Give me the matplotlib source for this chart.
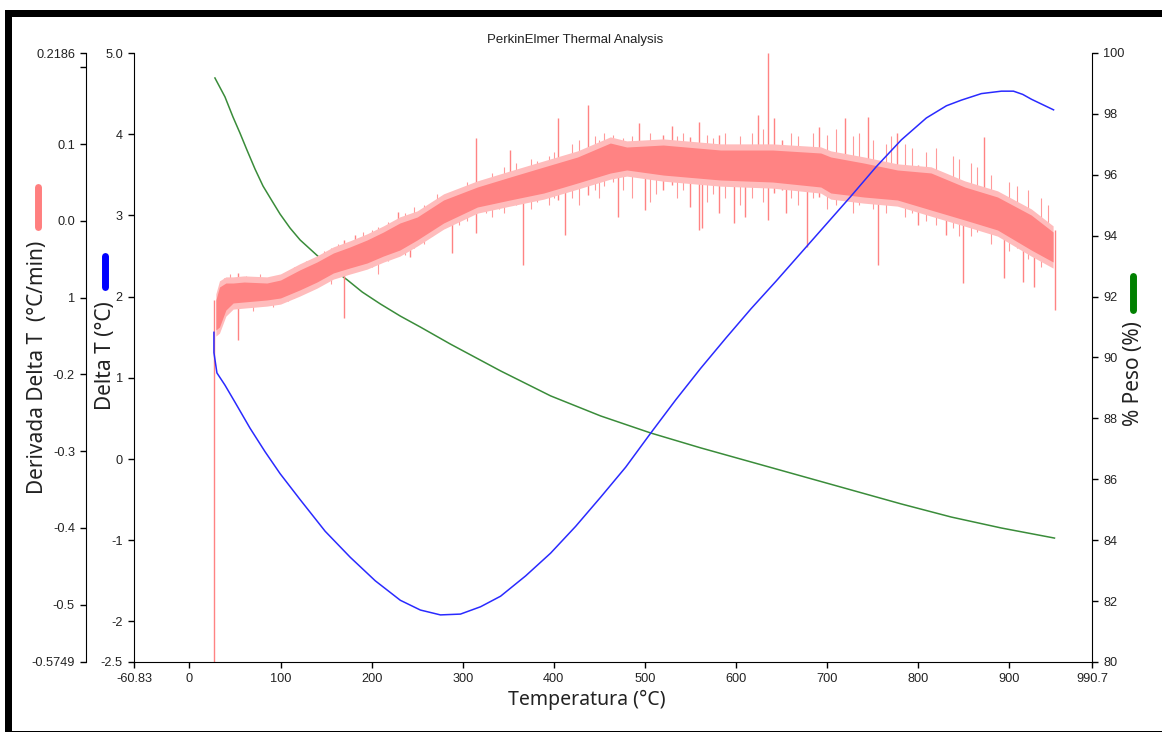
import matplotlib
matplotlib.use("Agg")
import matplotlib.pyplot as plt
from matplotlib.lines import Line2D
from matplotlib.patches import Rectangle
from matplotlib.ticker import FixedLocator, FixedFormatter

# ---------------- data ----------------
# x axis
x_ticks = [-60.83, 0, 100, 200, 300, 400, 500, 600, 700, 800, 900, 990.7]
x_labels = ["-60.83", "0", "100", "200", "300", "400", "500", "600", "700", "800", "900", "990.7"]

# Delta T (blue, inner left axis)
dt_ticks = [5.0, 4, 3, 2, 1, 0, -1, -2, -2.5]
dt_labels = ["5.0", "4", "3", "2", "1", "0", "-1", "-2", "-2.5"]
dt_T = [26.9, 26.9, 30.2, 39.0, 50.0, 66.5, 83.0, 99.5, 121.5, 149.0, 176.5, 204.0, 231.5,
        253.5, 275.5, 297.5, 319.5, 341.5, 369.0, 396.4, 423.9, 451.4, 478.9, 506.4, 533.9,
        561.4, 588.9, 616.4, 643.9, 671.4, 698.9, 726.4, 753.9, 781.4, 808.9, 830.9, 847.4,
        869.3, 891.3, 904.5, 914.7, 924.3, 948.5]
dt_val = [1.56, 1.31, 1.06, 0.91, 0.70, 0.38, 0.09, -0.18, -0.50, -0.89, -1.21, -1.50, -1.74,
          -1.86, -1.92, -1.91, -1.82, -1.69, -1.44, -1.16, -0.83, -0.47, -0.10, 0.32, 0.73,
          1.12, 1.49, 1.85, 2.19, 2.54, 2.89, 3.24, 3.60, 3.93, 4.20, 4.35, 4.42,
          4.50, 4.53, 4.53, 4.49, 4.43, 4.30]

# % Peso (green, right axis)
peso_ticks = [100, 98, 96, 94, 92, 90, 88, 86, 84, 82, 80]
peso_T = [28.0, 39.0, 47.8, 55.5, 63.2, 72.0, 80.8, 90.7, 99.5, 110.5, 121.5, 134.7, 146.8,
          160.0, 173.2, 189.7, 209.5, 231.5, 253.5, 286.5, 341.5, 396.4, 451.4, 506.4,
          561.4, 616.4, 671.4, 726.4, 781.4, 836.3, 891.3, 949.5]
peso_val = [99.18, 98.56, 97.90, 97.37, 96.81, 96.19, 95.63, 95.14, 94.71, 94.25, 93.86,
            93.50, 93.17, 92.84, 92.55, 92.15, 91.76, 91.36, 91.00, 90.44, 89.56, 88.74,
            88.08, 87.52, 87.03, 86.57, 86.11, 85.65, 85.19, 84.76, 84.40, 84.07]

# Derivada Delta T (red, outer left axis): noisy band (upper / lower edge) + spikes
der_ticks = [0.2186, 0.2, 0.1, 0.0, -0.1, -0.2, -0.3, -0.4, -0.5, -0.5749]
der_labels = ["0.2186", "", "0.1", "0.0", "1", "-0.2", "-0.3", "-0.4", "-0.5", "-0.5749"]
der_T = [29, 33, 40, 48, 60, 85, 100, 121, 140, 158, 176, 195, 213, 231, 250, 279, 316,
         352, 389, 426, 462, 480, 520, 583, 640, 693, 704, 740, 777, 814, 851, 887, 924, 948]
der_top = [-0.1032, -0.0863, -0.0811, -0.0811, -0.0798, -0.0811, -0.0772, -0.0641, -0.0537,
           -0.0420, -0.0342, -0.0250, -0.0146, -0.0029, 0.0049, 0.0271, 0.0440, 0.0570,
           0.0701, 0.0831, 0.1013, 0.0961, 0.0987, 0.0922, 0.0922, 0.0883, 0.0831, 0.0753,
           0.0662, 0.0623, 0.0440, 0.0310, 0.0075, -0.0146]
der_bot = [-0.1423, -0.1384, -0.1163, -0.1071, -0.1058, -0.1032, -0.1006, -0.0902, -0.0798,
           -0.0680, -0.0615, -0.0550, -0.0459, -0.0381, -0.0250, -0.0029, 0.0179, 0.0271,
           0.0362, 0.0492, 0.0622, 0.0662, 0.0596, 0.0531, 0.0505, 0.0440, 0.0362, 0.0310,
           0.0271, 0.0140, 0.0010, -0.0120, -0.0381, -0.0537]
# fuzzy outer fringe of the band
der_top_outer = [-0.0952, -0.0783, -0.0731, -0.0731, -0.0718, -0.0731, -0.0692, -0.0561,
                 -0.0457, -0.0340, -0.0262, -0.0170, -0.0066, 0.0051, 0.0129, 0.0351, 0.0520,
                 0.0650, 0.0781, 0.0911, 0.1093, 0.1041, 0.1067, 0.1002, 0.1002, 0.0963,
                 0.0911, 0.0833, 0.0742, 0.0703, 0.0520, 0.0390, 0.0155, -0.0066]
der_bot_outer = [-0.1503, -0.1464, -0.1243, -0.1151, -0.1138, -0.1112, -0.1086, -0.0982,
                 -0.0878, -0.0760, -0.0695, -0.0630, -0.0539, -0.0461, -0.0330, -0.0109,
                 0.0099, 0.0191, 0.0282, 0.0412, 0.0542, 0.0582, 0.0516, 0.0451, 0.0425,
                 0.0360, 0.0282, 0.0230, 0.0191, 0.0060, -0.0070, -0.0200, -0.0461, -0.0617]
# large spikes
spike_T = [27.3, 53, 170, 182, 229, 242, 288, 315, 352, 366, 405, 412, 437, 470, 493, 500,
           520, 530, 550, 559, 563, 581, 598, 610, 624, 635, 642, 650, 655, 678, 691, 720,
           745, 756, 777, 800, 830, 849, 872, 894, 915, 927, 950]
spike_top = [-0.1032, -0.068, -0.025, -0.0185, 0.0114, 0.001, 0.0336, 0.1079, 0.0922, 0.0531,
             0.1339, 0.0701, 0.1508, 0.0922, 0.1274, 0.0922, 0.1118, 0.1235, 0.1092, 0.1287,
             0.0792, 0.1118, 0.0922, 0.0922, 0.1378, 0.2186, 0.1339, 0.1052, 0.0922, 0.0792,
             0.1222, 0.1339, 0.1352, 0.0662, 0.1144, 0.0727, 0.0596, 0.0401, 0.1092, 0.0271,
             0.014, 0.0075, -0.012]
spike_bot = [-0.5749, -0.1553, -0.1267, -0.0537, -0.0381, -0.0472, -0.042, -0.0159, 0.0336,
             -0.0576, 0.0271, -0.0185, 0.0336, 0.0049, 0.0596, 0.014, 0.0401, 0.0466, 0.0179,
             -0.012, -0.0094, 0.010, -0.0029, 0.0049, 0.0531, 0.001, 0.0362, 0.0401, 0.010,
             -0.0342, 0.031, 0.0401, 0.0271, -0.0576, 0.0206, -0.0055, -0.0185, -0.0811,
             0.0075, -0.0746, -0.0798, -0.0863, -0.1163]
# small noise spikes along the band
noise_T = [38, 45, 62, 70, 78, 92, 108, 115, 128, 135, 148, 155, 163, 190, 200, 207, 218,
           237, 246, 258, 266, 272, 296, 305, 325, 332, 340, 345, 359, 375, 382, 395, 400,
           420, 428, 445, 450, 455, 465, 476, 486, 505, 512, 535, 542, 568, 575, 588, 604,
           617, 630, 660, 668, 685, 700, 710, 728, 735, 750, 765, 770, 785, 793, 808, 820,
           838, 845, 858, 865, 880, 900, 908, 920, 935, 942]
noise_top = [-0.075, -0.070, -0.072, -0.076, -0.070, -0.074, -0.066, -0.060, -0.052, -0.050,
             -0.040, -0.035, -0.030, -0.015, -0.012, -0.008, -0.002, 0.010, 0.018, 0.020,
             0.025, 0.035, 0.040, 0.050, 0.055, 0.062, 0.060, 0.070, 0.075, 0.080, 0.078,
             0.085, 0.090, 0.100, 0.105, 0.110, 0.105, 0.115, 0.112, 0.108, 0.110, 0.115,
             0.105, 0.110, 0.115, 0.112, 0.108, 0.115, 0.110, 0.115, 0.120, 0.115, 0.110,
             0.115, 0.112, 0.120, 0.110, 0.115, 0.105, 0.100, 0.110, 0.100, 0.095, 0.090,
             0.095, 0.085, 0.080, 0.075, 0.070, 0.060, 0.050, 0.045, 0.040, 0.030, 0.020]
noise_bot = [-0.125, -0.115, -0.112, -0.118, -0.110, -0.113, -0.105, -0.100, -0.090, -0.085,
             -0.078, -0.082, -0.070, -0.062, -0.060, -0.070, -0.052, -0.045, -0.035, -0.030,
             -0.020, -0.012, -0.005, 0.000, 0.010, 0.005, 0.015, 0.010, 0.020, 0.015, 0.025,
             0.020, 0.030, 0.030, 0.020, 0.040, 0.030, 0.045, 0.050, 0.040, 0.030, 0.025,
             0.035, 0.030, 0.040, 0.025, 0.035, 0.030, 0.020, 0.030, 0.025, 0.030, 0.020,
             0.030, 0.015, 0.020, 0.010, 0.020, 0.015, 0.010, 0.020, 0.005, 0.010, 0.000,
             -0.005, -0.010, -0.020, -0.020, -0.015, -0.030, -0.040, -0.035, -0.050, -0.060,
             -0.055]

# ---------------- figure ----------------
W, H = 1162, 732
fig = plt.figure(figsize=(W / 100, H / 100), dpi=100)
fig.patch.set_facecolor("white")

def fx(px):
    return px / W

def fy(py):
    return 1 - py / H

left, right, top, bottom = 134, 1092, 53, 662
ax = fig.add_axes([fx(left), fy(bottom), (right - left) / W, (bottom - top) / H])
ax_p = ax.twinx()
ax_d = ax.twinx()
ax_p.set_zorder(1)
ax_d.set_zorder(2)
ax.set_zorder(3)
for a in (ax, ax_p, ax_d):
    a.patch.set_visible(False)

tick_color = "#222222"
tfont = dict(family="Liberation Sans", size=9.2)

# main (Delta T)
ax.plot(dt_T, dt_val, color="#2a2aff", lw=1.1)
ax.set_xlim(-60.83, 990.7)
ax.set_ylim(-2.5, 5.0)
ax.spines["top"].set_visible(False)
ax.spines["right"].set_visible(False)
ax.xaxis.set_major_locator(FixedLocator(x_ticks))
ax.xaxis.set_major_formatter(FixedFormatter(x_labels))
ax.yaxis.set_major_locator(FixedLocator(dt_ticks))
ax.yaxis.set_major_formatter(FixedFormatter(dt_labels))
ax.tick_params(axis="both", direction="out", length=4, width=1, colors="black",
               labelcolor=tick_color, pad=4)
for lab in ax.get_xticklabels() + ax.get_yticklabels():
    lab.set_fontfamily(tfont["family"])
    lab.set_fontsize(tfont["size"])

# % Peso (green)
ax_p.plot(peso_T, peso_val, color="#3a8c3a", lw=1.1)
ax_p.set_ylim(80, 100)
for s in ("top", "left", "bottom"):
    ax_p.spines[s].set_visible(False)
ax_p.yaxis.set_major_locator(FixedLocator(peso_ticks))
ax_p.yaxis.set_major_formatter(FixedFormatter([str(t) for t in peso_ticks]))
ax_p.tick_params(axis="y", direction="out", length=4, width=1, labelcolor=tick_color, pad=4)
for lab in ax_p.get_yticklabels():
    lab.set_fontfamily(tfont["family"])
    lab.set_fontsize(tfont["size"])

# Derivada (red)
red = "#ff8383"
ax_d.vlines(noise_T, noise_bot, noise_top, color="#ff9a9a", lw=0.8, zorder=1)
ax_d.vlines(spike_T, spike_bot, spike_top, color=red, lw=1.0, zorder=1)
ax_d.fill_between(der_T, der_bot_outer, der_top_outer, color="#ffbcbc", lw=0, zorder=2)
ax_d.fill_between(der_T, der_bot, der_top, color=red, lw=0, zorder=3)
ax_d.set_ylim(-0.5749, 0.2186)
for s in ("top", "right", "bottom"):
    ax_d.spines[s].set_visible(False)
ax_d.spines["left"].set_visible(True)
ax_d.spines["left"].set_position(("axes", (86 - left) / (right - left)))
ax_d.yaxis.set_label_position("left")
ax_d.yaxis.set_ticks_position("left")
ax_d.yaxis.set_major_locator(FixedLocator(der_ticks))
ax_d.yaxis.set_major_formatter(FixedFormatter(der_labels))
ax_d.tick_params(axis="y", direction="out", length=4, width=1, labelcolor=tick_color, pad=4)
for lab in ax_d.get_yticklabels():
    lab.set_fontfamily(tfont["family"])
    lab.set_fontsize(tfont["size"])

# ---------------- texts ----------------
fam = ["Noto Sans", "DejaVu Sans"]
fig.text(fx(587), fy(700), "Temperatura (°C)", ha="center", va="center",
         family=fam, size=14, color="#222222")
fig.text(fx(38), fy(367), "Derivada Delta T  (°C/min)", rotation=90, ha="center",
         va="center", family=fam, size=15, color="#222222")
fig.text(fx(105), fy(356), "Delta T (°C)", rotation=90, ha="center", va="center",
         family=fam, size=15, color="#222222")
fig.text(fx(1133), fy(374), "% Peso (%)", rotation=90, ha="center", va="center",
         family=fam, size=15, color="#222222")
fig.text(fx(575), fy(40), "PerkinElmer Thermal Analysis", ha="center", va="center",
         family="Liberation Sans", size=9.5, color="#222222")

# colour keys
for xk, y0, y1, c in ((38, 187, 227, "#ff7f7f"), (105, 256, 287, "#0000ff"),
                      (1133, 276, 310, "#008000")):
    fig.add_artist(Line2D([fx(xk), fx(xk)], [fy(y0), fy(y1)], transform=fig.transFigure,
                          color=c, lw=5, solid_capstyle="round"))

# outer frame
fig.add_artist(Rectangle((fx(5), fy(17)), 1 - fx(5), 7 / H, transform=fig.transFigure,
                         color="black", lw=0))
fig.add_artist(Rectangle((fx(5), 0), 7 / W, fy(10), transform=fig.transFigure,
                         color="black", lw=0))
fig.add_artist(Rectangle((fx(5), 0), 1 - fx(5), 1.5 / H, transform=fig.transFigure,
                         color="black", lw=0))

fig.savefig("out.png", dpi=100)
